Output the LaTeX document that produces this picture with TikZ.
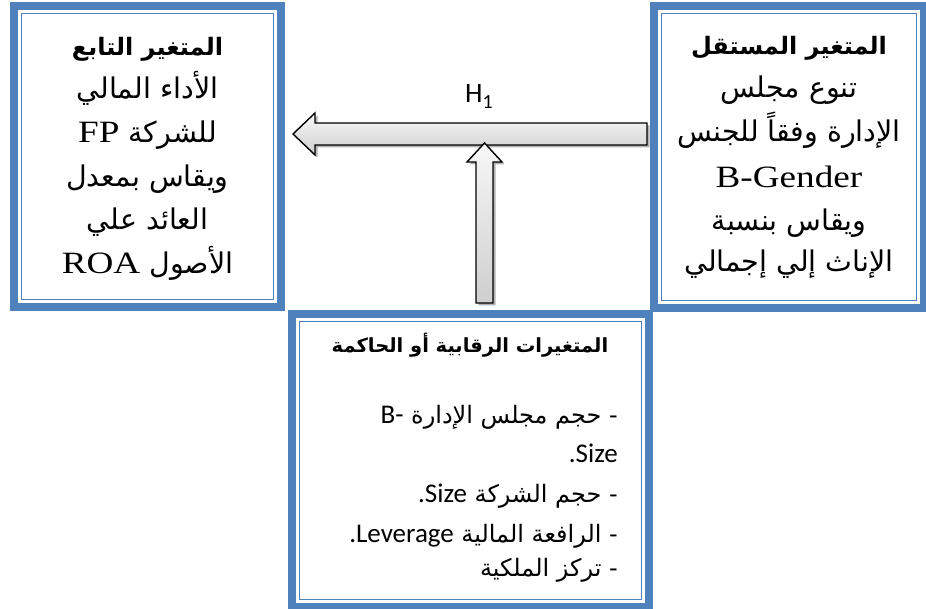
\documentclass[tikz,border=0pt]{standalone}
\usepackage{fontspec}
\usetikzlibrary{shadows}
\TeXXeTstate=1
\newfontfamily\arfont[Script=Arabic]{DejaVu Sans}
\newfontfamily\serifL[FakeStretch=1.2]{Liberation Serif}
\newfontfamily\calib{Carlito}
\definecolor{frameblue}{HTML}{4F81BD}
\newcommand{\calsz}{\calib\fontsize{27}{30}\selectfont}
\begin{document}
\begin{tikzpicture}[x=1pt,y=-1pt,
  frame/.style={draw=frameblue, line width=8.5pt, fill=white, outer sep=0pt, inner sep=0pt, rectangle},
  thinframe/.style={draw=frameblue, line width=1.6pt},
  blockarrow/.style={draw=black, line width=1.4pt, line join=miter, top color=gray!6, bottom color=gray!38,
    drop shadow={shadow xshift=2.5pt, shadow yshift=-2.5pt, opacity=0.3, fill=black}},
  bigar/.style={font=\arfont\fontsize{28.5}{32}\selectfont, inner sep=0pt, anchor=base},
  boldar/.style={font=\arfont\bfseries\fontsize{24}{30}\selectfont, inner sep=0pt, anchor=base},
  smallar/.style={font=\arfont\fontsize{24}{28}\selectfont, inner sep=0pt, anchor=base east},
  lat/.style={font=\serifL\fontsize{31}{34}\selectfont},
  cal/.style={font=\calsz}
]
\useasboundingbox (0,0) rectangle (926,609);
% boxes
\node[frame, minimum width=270pt, minimum height=302pt] (rbox) at (789,157) {};
\draw[thinframe] ([xshift=7.5pt,yshift=-7.5pt]rbox.north west) rectangle ([xshift=-7.5pt,yshift=7.5pt]rbox.south east);
\node[frame, minimum width=267pt, minimum height=301pt] (lbox) at (147.5,156.5) {};
\draw[thinframe] ([xshift=7.5pt,yshift=-7.5pt]lbox.north west) rectangle ([xshift=-7.5pt,yshift=7.5pt]lbox.south east);
% arrows
\path[blockarrow] (647,123) -- (315,123) -- (315,113) -- (293,134) -- (315,155) -- (315,145) -- (647,145) -- cycle;
\path[blockarrow] (476,303) -- (476,162) -- (467,162) -- (484.5,143) -- (502,162) -- (493,162) -- (493,303) -- cycle;
\node[inner sep=0pt, anchor=base west, font=\calib\fontsize{28}{30}\selectfont] (h1) at (465,103) {H\raisebox{-6pt}{\fontsize{20}{22}\selectfont 1}};
% bottom box
\node[frame, minimum width=357pt, minimum height=293pt] (bbox) at (470.5,460.5) {};
\draw[thinframe] ([xshift=7.5pt,yshift=-7.5pt]bbox.north west) rectangle ([xshift=-7.5pt,yshift=7.5pt]bbox.south east);
% left box text
\node[boldar] (l1) at (147.5,56) {\beginR المتغير التابع\endR};
\node[bigar] (l2) at (147.5,99) {\beginR الأداء المالي\endR};
\node[bigar] (l3) at (147.5,143) {\beginR للشركة \beginL{\serifL\fontsize{31}{34}\selectfont FP}\endL\endR};
\node[bigar] (l4) at (147.5,187) {\beginR ويقاس بمعدل\endR};
\node[bigar] (l5) at (147.5,230) {\beginR العائد علي\endR};
\node[bigar] (l6) at (147.5,274) {\beginR الأصول \beginL{\serifL\fontsize{31}{34}\selectfont ROA}\endL\endR};
% right box text
\node[boldar] (r1) at (789,55) {\beginR المتغير المستقل\endR};
\node[bigar] (r2) at (789,98) {\beginR تنوع مجلس\endR};
\node[bigar] (r3) at (789,142) {\beginR الإدارة وفقاً للجنس\endR};
\node[bigar, lat] (r4) at (789,188) {B-Gender};
\node[bigar] (r5) at (789,231) {\beginR ويقاس بنسبة\endR};
\node[bigar] (r6) at (789,272) {\beginR الإناث إلي إجمالي\endR};
% bottom box text
\node[inner sep=0pt, anchor=base, font=\arfont\bfseries\fontsize{19.5}{22}\selectfont] (b0) at (470,353) {\beginR المتغيرات الرقابية أو الحاكمة\endR};
\node[smallar] (b1) at (618,423) {\beginR - حجم مجلس الإدارة \beginL{\calsz B-}\endL\endR};
\node[smallar, cal] (b2) at (618,462) {.Size};
\node[smallar] (b3) at (618,502) {\beginR - حجم الشركة \beginL{\calsz Size}\endL{\calsz .}\endR};
\node[smallar] (b4) at (618,542) {\beginR - الرافعة المالية \beginL{\calsz Leverage}\endL{\calsz .}\endR};
\node[smallar] (b5) at (618,576) {\beginR - تركز الملكية\endR};
\end{tikzpicture}
\end{document}
